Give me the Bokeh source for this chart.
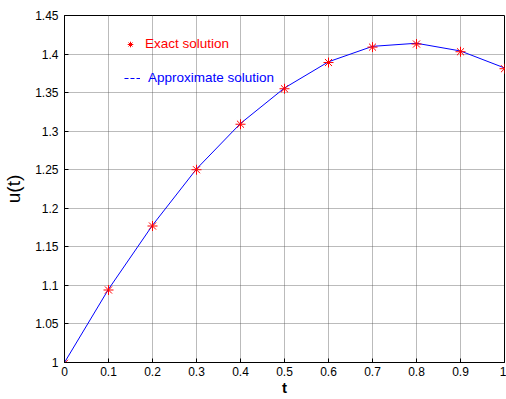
from bokeh.plotting import figure
from bokeh.models import Legend, LegendItem, FixedTicker, ColumnDataSource, Range1d
from bokeh.embed import file_html
from bokeh.resources import INLINE

t = [0.0, 0.1, 0.2, 0.3, 0.4, 0.5, 0.6, 0.7, 0.8, 0.9, 1.0]
approx = [1.0, 1.095, 1.178, 1.251, 1.310, 1.356, 1.390, 1.410, 1.414, 1.404, 1.382]
exact = [0.999, 1.094, 1.177, 1.250, 1.309, 1.355, 1.389, 1.409, 1.413, 1.403, 1.381]
xticks = [0, 0.1, 0.2, 0.3, 0.4, 0.5, 0.6, 0.7, 0.8, 0.9, 1.0]
yticks = [1.0, 1.05, 1.1, 1.15, 1.2, 1.25, 1.3, 1.35, 1.4, 1.45]

p = figure(width=506, height=399, output_backend="svg", toolbar_location=None,
           x_range=Range1d(0, 1), y_range=Range1d(1, 1.45),
           min_border_left=64, min_border_right=2, min_border_top=15, min_border_bottom=37)

p.outline_line_color = "black"
p.outline_line_width = 1
p.background_fill_color = "white"
p.border_fill_color = "white"

for ax in (p.xaxis[0], p.yaxis[0]):
    ax.major_tick_in = 4
    ax.major_tick_out = 0
    ax.minor_tick_line_color = None
    ax.axis_line_color = "black"
    ax.major_tick_line_color = "black"
    ax.major_label_text_font = "Liberation Sans"
    ax.major_label_text_font_size = "12px"
    ax.major_label_text_color = "black"
    ax.axis_label_text_font = "Liberation Sans"
    ax.axis_label_text_font_style = "normal"
    ax.axis_label_text_color = "black"

p.xaxis.ticker = FixedTicker(ticks=xticks)
p.yaxis.ticker = FixedTicker(ticks=yticks)
p.xaxis.major_label_overrides = {0: "0", 1.0: "1"}
p.yaxis.major_label_overrides = {1.0: "1"}
p.xaxis.major_label_standoff = 4
p.yaxis.major_label_standoff = 6
p.xaxis.axis_label = "t"
p.xaxis.axis_label_text_font_size = "15px"
p.xaxis.axis_label_text_font_style = "bold"
p.xaxis.axis_label_standoff = 0
p.yaxis.axis_label = "u(t)"
p.yaxis.axis_label_text_font_size = "19px"
p.yaxis.axis_label_standoff = 8

for g in (p.xgrid[0], p.ygrid[0]):
    g.grid_line_color = "#555555"
    g.grid_line_dash = "1 1"
    g.grid_line_width = 1
    g.grid_line_alpha = 0.8
p.xgrid.ticker = FixedTicker(ticks=xticks)
p.ygrid.ticker = FixedTicker(ticks=yticks)

src = ColumnDataSource(dict(t=t, approx=approx, exact=exact))
p.line("t", "approx", source=src, line_color="blue", line_width=1)
p.scatter("t", "exact", source=src, marker="asterisk", size=10, line_color="red", line_width=1)

nan = float("nan")
empty = ColumnDataSource(dict(x=[nan], y=[nan]))
dummy_star = p.scatter("x", "y", source=empty, marker="asterisk", size=5, line_color="red")
dummy_line = p.line("x", "y", source=empty, line_color="blue", line_dash="4 2", line_width=1.2)

leg1 = Legend(items=[LegendItem(label="Exact solution", renderers=[dummy_star])],
              location=(59, 311), label_text_color="red", label_text_font="Liberation Sans",
              label_text_font_size="13.5px", glyph_width=14, glyph_height=14, label_standoff=8,
              padding=0, margin=0, border_line_color=None, background_fill_alpha=0,
              label_height=14)
leg2 = Legend(items=[LegendItem(label="Approximate solution", renderers=[dummy_line])],
              location=(60, 277), label_text_color="blue", label_text_font="Liberation Sans",
              label_text_font_size="13.5px", glyph_width=16, glyph_height=14, label_standoff=8,
              padding=0, margin=0, border_line_color=None, background_fill_alpha=0,
              label_height=14)
p.add_layout(leg1, "center")
p.add_layout(leg2, "center")

open("out.html", "w").write(file_html(p, INLINE))
